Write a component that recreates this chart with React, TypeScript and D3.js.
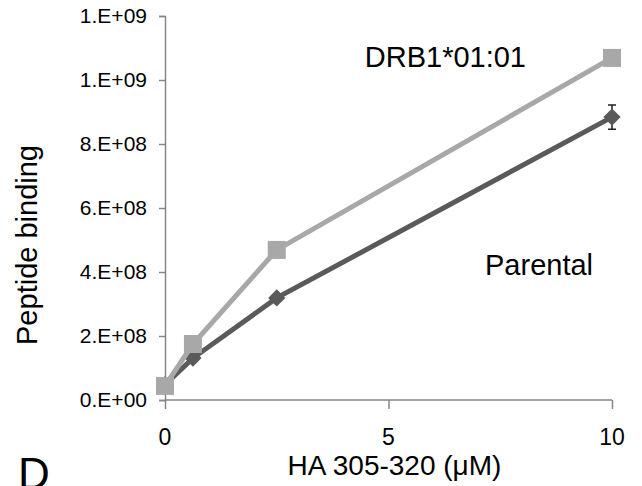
import React, { useEffect, useRef } from 'react';
import * as d3 from 'd3';

// peptide concentration (uM)
const concentrations = [0, 0.625, 2.5, 10];
// DRB1*01:01 transfected cells
const drbValues = [4.4e7, 1.75e8, 4.69e8, 1.069e9];
// parental cells
const parentalValues = [4.8e7, 1.31e8, 3.19e8, 8.84e8];
const parentalErrors = [1.8e7, 0, 0, 3.8e7];

const yTicks = [0, 2e8, 4e8, 6e8, 8e8, 1e9, 1.2e9];
const yTickLabels = ['0.E+00', '2.E+08', '4.E+08', '6.E+08', '8.E+08', '1.E+09', '1.E+09'];
const xTicks = [0, 5, 10];

const App = () => {
  const svgRef = useRef<SVGSVGElement>(null);

  useEffect(() => {
    if (!svgRef.current) return;
    const font = 'Liberation Sans, Arial, sans-serif';
    const axisColor = '#868686';
    const dark = '#5a5a5a';
    const light = '#a8a8a8';

    const svg = d3.select(svgRef.current);
    svg.selectAll('*').remove();

    const x = d3.scaleLinear().domain([0, 10]).range([165, 612]);
    const y = d3.scaleLinear().domain([0, 1.2e9]).range([400, 16]);

    // axes (lines from d3, labels drawn below)
    const yAxis = svg.append('g').attr('transform', `translate(${x(0)},0)`)
      .call(d3.axisLeft(y).tickValues(yTicks).tickSize(6).tickFormat(() => ''));
    yAxis.select('.domain').attr('stroke', axisColor).attr('stroke-width', 1.5);
    yAxis.selectAll('.tick line').attr('stroke', axisColor).attr('stroke-width', 1.5);

    const xAxis = svg.append('g').attr('transform', `translate(0,${y(0)})`)
      .call(d3.axisBottom(x).tickValues(xTicks).tickSize(9).tickFormat(() => ''));
    xAxis.select('.domain').attr('stroke', axisColor).attr('stroke-width', 1.5)
      .attr('d', `M${x(0)},0H${x(10)}`);
    xAxis.selectAll('.tick line').attr('stroke', axisColor).attr('stroke-width', 1.5);

    svg.append('g').selectAll('text')
      .data(yTicks)
      .enter().append('text')
      .attr('x', x(0) - 18)
      .attr('y', d => y(d))
      .attr('dy', '0.35em')
      .attr('text-anchor', 'end')
      .attr('font-family', font)
      .attr('font-size', 21)
      .text((d, i) => yTickLabels[i]);

    svg.append('g').selectAll('text')
      .data(xTicks)
      .enter().append('text')
      .attr('x', d => x(d))
      .attr('y', 445)
      .attr('text-anchor', 'middle')
      .attr('font-family', font)
      .attr('font-size', 23)
      .text(d => String(d));

    const line = d3.line<number>()
      .x((d, i) => x(concentrations[i]))
      .y(d => y(d));

    // parental series (dark diamonds)
    svg.append('path')
      .datum(parentalValues)
      .attr('d', line)
      .attr('fill', 'none')
      .attr('stroke', dark)
      .attr('stroke-width', 5);

    svg.selectAll('.err')
      .data(parentalValues.map((v, i) => ({ x: concentrations[i], v, e: parentalErrors[i] })).filter(d => d.e > 0))
      .enter().append('path')
      .attr('class', 'err')
      .attr('d', d => `M${x(d.x) - 4},${y(d.v + d.e)}H${x(d.x) + 4}M${x(d.x)},${y(d.v + d.e)}V${y(d.v - d.e)}M${x(d.x) - 4},${y(d.v - d.e)}H${x(d.x) + 4}`)
      .attr('stroke', '#222')
      .attr('stroke-width', 1.5)
      .attr('fill', 'none');

    svg.selectAll('.diamond')
      .data(parentalValues)
      .enter().append('path')
      .attr('class', 'diamond')
      .attr('transform', (d, i) => `translate(${x(concentrations[i])},${y(d)})`)
      .attr('d', d3.symbol(d3.symbolDiamond2, 190))
      .attr('fill', dark);

    // DRB1*01:01 series (light squares)
    svg.append('path')
      .datum(drbValues)
      .attr('d', line)
      .attr('fill', 'none')
      .attr('stroke', light)
      .attr('stroke-width', 5);

    svg.selectAll('.square')
      .data(drbValues)
      .enter().append('rect')
      .attr('class', 'square')
      .attr('x', (d, i) => x(concentrations[i]) - 9)
      .attr('y', d => y(d) - 9)
      .attr('width', 18)
      .attr('height', 18)
      .attr('fill', light);

    // labels
    svg.append('text')
      .attr('x', 526).attr('y', 67)
      .attr('text-anchor', 'end')
      .attr('font-family', font).attr('font-size', 29)
      .text('DRB1*01:01');

    svg.append('text')
      .attr('x', 485).attr('y', 275)
      .attr('font-family', font).attr('font-size', 29)
      .text('Parental');

    svg.append('text')
      .attr('transform', `translate(37,245) rotate(-90)`)
      .attr('text-anchor', 'middle')
      .attr('font-family', font).attr('font-size', 29)
      .text('Peptide binding');

    svg.append('text')
      .attr('x', x(5) + 6).attr('y', 475)
      .attr('text-anchor', 'middle')
      .attr('font-family', font).attr('font-size', 28)
      .text('HA 305-320 (μM)');

    svg.append('text')
      .attr('x', 18).attr('y', 489)
      .attr('font-family', font).attr('font-size', 44)
      .text('D');
  }, []);

  return (
    <svg ref={svgRef} width={642} height={486}
      style={{ position: 'absolute', left: 0, top: 0, background: '#fff' }} />
  );
};

export default App;
